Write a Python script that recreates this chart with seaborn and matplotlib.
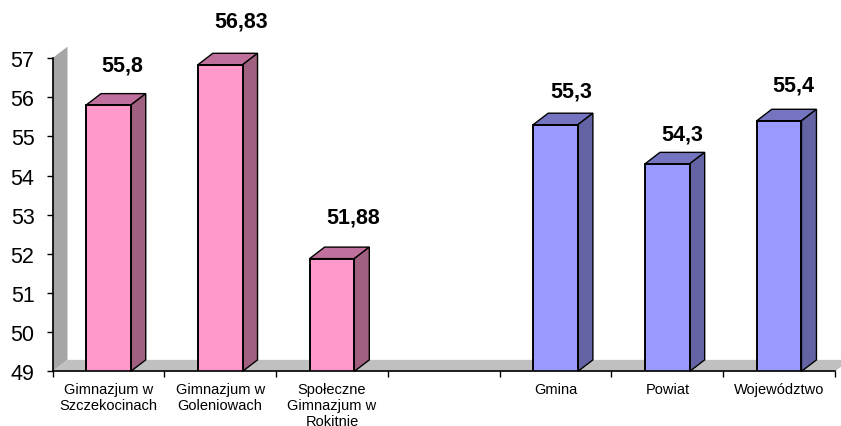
import matplotlib
matplotlib.use('Agg')
import matplotlib.pyplot as plt
from matplotlib.patches import Polygon
from matplotlib.transforms import IdentityTransform
import pandas as pd
import seaborn as sns

categories = ['Gimnazjum w\nSzczekocinach', 'Gimnazjum w\nGoleniowach',
              'Społeczne\nGimnazjum w\nRokitnie', ' ', 'Gmina', 'Powiat', 'Województwo']
values = [55.8, 56.83, 51.88, None, 55.3, 54.3, 55.4]
value_labels = ['55,8', '56,83', '51,88', None, '55,3', '54,3', '55,4']
groups = ['szkola', 'szkola', 'szkola', 'szkola', 'region', 'region', 'region']
y_ticks = [49, 50, 51, 52, 53, 54, 55, 56, 57]

# label placement relative to the top of the front face, in pixels
label_dx = [13.5, 20.5, 21.5, 0, 15.5, 14.5, 14.5]
label_dy = [40, 44, 42, 0, 34, 30, 36]

front = {'szkola': '#FF99CC', 'region': '#9999FF'}
top = {'szkola': '#C0709C', 'region': '#7474C0'}
side = {'szkola': '#A0607F', 'region': '#6464A4'}
DX, DY = 15, 11.5

sns.set_theme(style='white')
plt.rcParams['font.family'] = ['Liberation Sans', 'DejaVu Sans']

df = pd.DataFrame({'kategoria': categories, 'wynik': values, 'grupa': groups})

fig = plt.figure(figsize=(8.41, 4.27), dpi=100)
W, H = fig.canvas.get_width_height()
ax = fig.add_axes([52.5 / W, 1 - 371.5 / H, 782.5 / W, 312.5 / H])
ax.patch.set_alpha(0)

sns.barplot(data=df, x='kategoria', y='wynik', hue='grupa', palette=front, dodge=False,
            width=0.4, saturation=1, edgecolor='black', linewidth=1.4, legend=False, ax=ax, zorder=4)
ax.set_ylim(49, 57)
ax.set_xlim(-0.5, 6.5)
ax.set_xlabel('')
ax.set_ylabel('')


def px(x, y):
    return ax.transData.transform((x, y))


def face(points, color, edge='black', lw=1.0, z=3):
    # points are already in display pixels
    fig.add_artist(Polygon(points, closed=True, facecolor=color, edgecolor=edge, linewidth=lw,
                           transform=IdentityTransform(), zorder=z))


# back wall and floor
x0, y0 = px(-0.5, 49)
x1, _ = px(6.5, 49)
_, yt = px(-0.5, 57)
face([(x0, y0), (x0 + DX, y0 + DY), (x0 + DX, yt + DY), (x0, yt)], '#A6A6A6', edge='none', z=0.5)
face([(x0, y0), (x1, y0), (x1 + DX, y0 + DY), (x0 + DX, y0 + DY)], '#C0C0C0', edge='none', z=0.6)

ax.set_zorder(2)
ax.figure.canvas.draw()

# depth faces and value labels, taken from the bars seaborn drew
bars = sorted([b for b in ax.patches if b.get_height() == b.get_height() and b.get_height() > 0],
              key=lambda b: b.get_x())
used = [i for i, v in enumerate(values) if v is not None]
for i, bar in zip(used, bars):
    left, right = bar.get_x(), bar.get_x() + bar.get_width()
    xa, ya = px(left, values[i])
    xb, yb = px(right, 49)
    ax.add_patch(Polygon([(xa, ya), (xb, ya), (xb + DX, ya + DY), (xa + DX, ya + DY)], closed=True,
                         facecolor=top[groups[i]], edgecolor='black', linewidth=1.0,
                         transform=IdentityTransform(), clip_on=False, zorder=3))
    ax.add_patch(Polygon([(xb, ya), (xb + DX, ya + DY), (xb + DX, yb + DY), (xb, yb)], closed=True,
                         facecolor=side[groups[i]], edgecolor='black', linewidth=1.0,
                         transform=IdentityTransform(), clip_on=False, zorder=3))
    ax.annotate(value_labels[i], xy=((left + right) / 2, values[i]),
                xytext=(label_dx[i] * 0.72, label_dy[i] * 0.72), textcoords='offset points',
                ha='center', va='center', fontsize=15.5, fontweight='bold', color='black',
                annotation_clip=False, zorder=6)

for s in ['top', 'right']:
    ax.spines[s].set_visible(False)
for s in ['left', 'bottom']:
    ax.spines[s].set_visible(True)
    ax.spines[s].set_color('black')
    ax.spines[s].set_linewidth(1.2)
    ax.spines[s].set_zorder(7)

ax.set_yticks(y_ticks)
ax.set_yticklabels([str(t) for t in y_ticks], fontsize=15.5, color='black')
ax.tick_params(axis='y', left=True, length=4.5, width=1.0, color='black', pad=8.5)

# ticks sit on the slot edges, labels in the slot middle
ax.set_xticks([i - 0.5 for i in range(8)])
ax.set_xticklabels([])
ax.set_xticks(range(7), minor=True)
ax.set_xticklabels(categories, minor=True, fontsize=10.5, color='black', linespacing=1.17)
ax.tick_params(axis='x', which='major', bottom=True, length=4.5, width=1.0, color='black')
ax.tick_params(axis='x', which='minor', bottom=False, length=0, pad=7.5)
ax.grid(False)

fig.savefig('out.png', dpi=100)
